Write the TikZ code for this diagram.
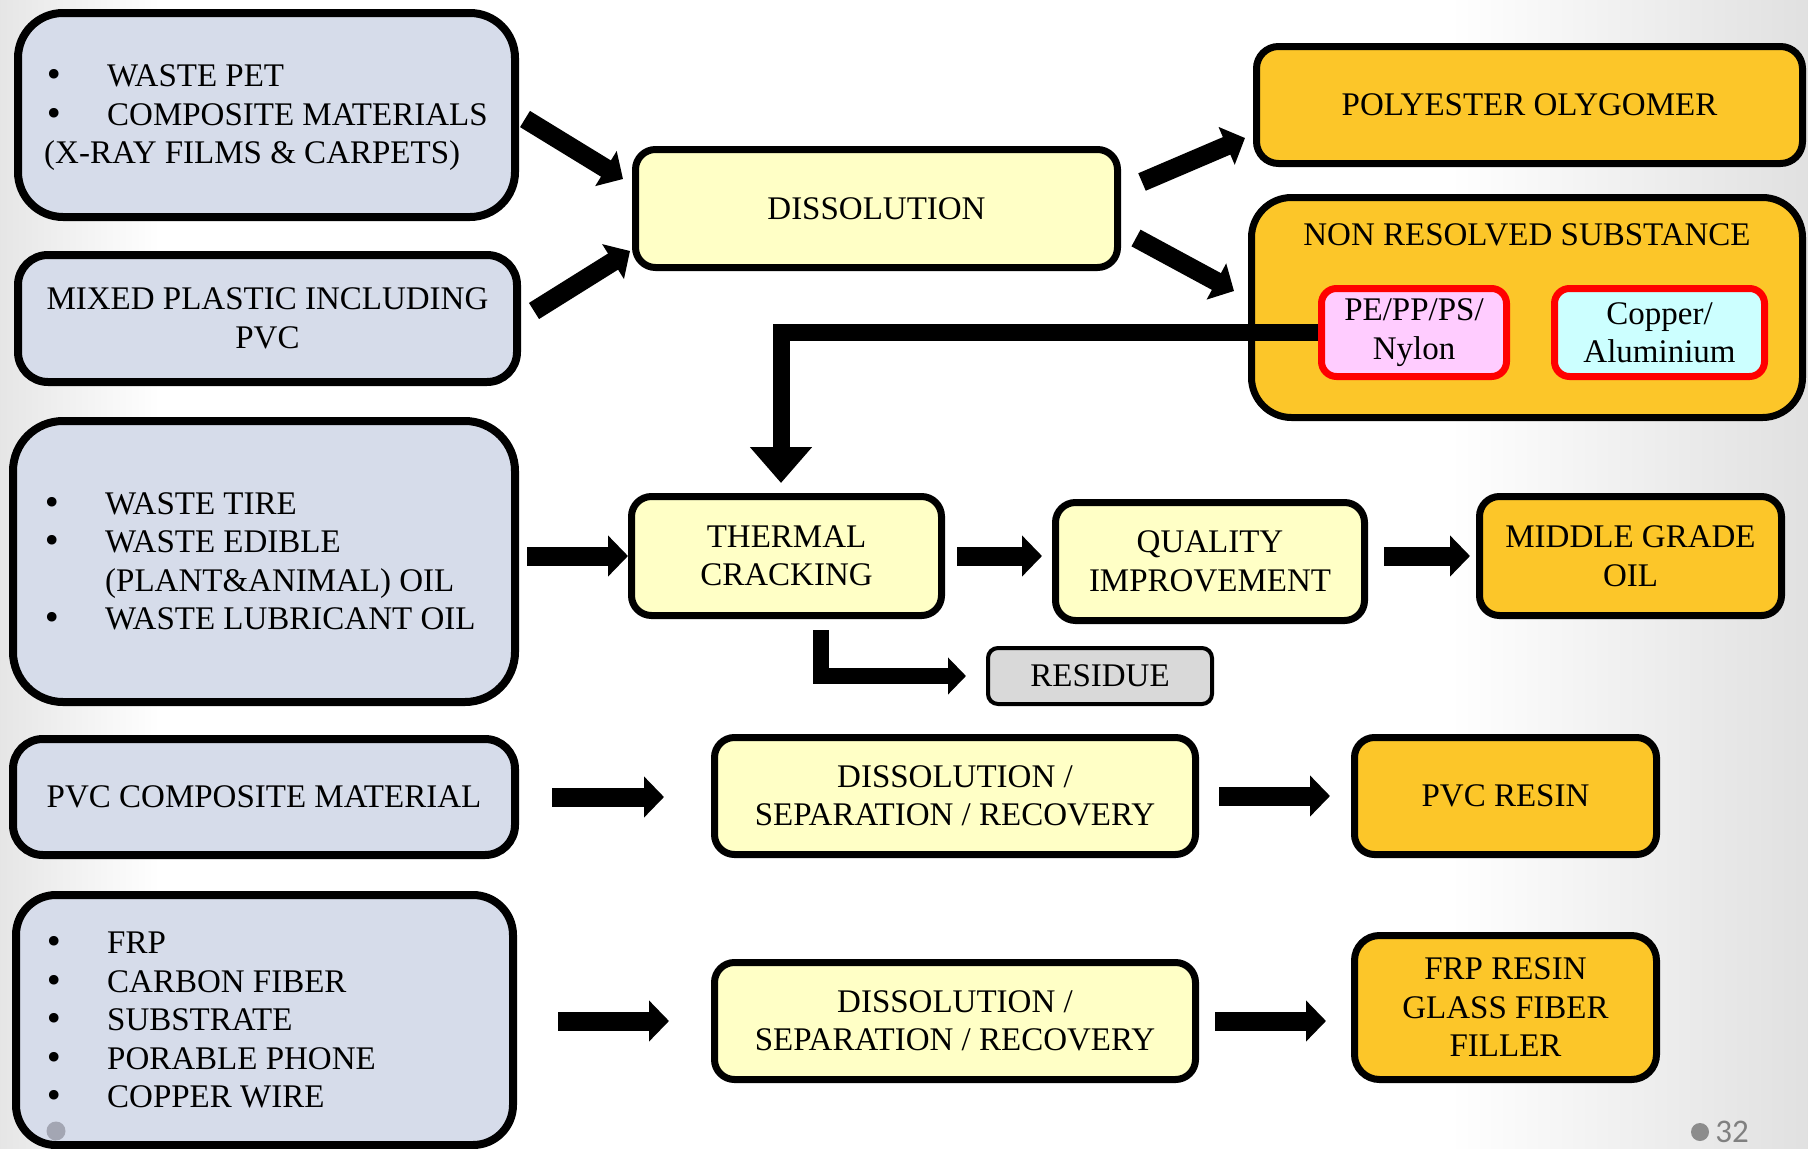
\documentclass[tikz,border=0pt]{standalone}
\usepackage{fontspec}
\setmainfont{Liberation Serif}
\newfontfamily\slidenumfont{Carlito}
\newfontfamily\bulletfont{DejaVu Sans}
\usetikzlibrary{arrows.meta}

\definecolor{srcfill}{RGB}{214,220,234}
\definecolor{procfill}{RGB}{255,255,198}
\definecolor{prodfill}{RGB}{252,198,41}
\definecolor{pinkfill}{RGB}{255,204,255}
\definecolor{cyanfill}{RGB}{204,255,255}
\definecolor{resfill}{RGB}{217,217,217}
\definecolor{dotgray}{RGB}{163,166,179}

\newcommand{\bulitem}{\makebox[63pt][l]{{\bulletfont\textbullet}}}

\begin{document}
\begin{tikzpicture}[x=1pt, y=-1pt,
  every node/.style={font=\fontsize{33}{38.5}\selectfont, inner sep=0pt},
  srcbox/.style={draw, line width=8pt, fill=srcfill, rounded corners=#1},
  procbox/.style={draw, line width=7pt, fill=procfill, rounded corners=20pt, align=center},
  prodbox/.style={draw, line width=7pt, fill=prodfill, rounded corners=#1, align=center},
  subbox/.style={draw=red, line width=7pt, rounded corners=15pt, align=center,
    minimum height=88pt},
  flowarrow/.style={line width=19pt, -{Triangle[length=20pt,width=40pt]}},
  bigarrow/.style={line width=17pt, -{Triangle[length=36pt,width=60pt]}},
  residuearrow/.style={line width=16pt, -{Triangle[length=18pt,width=36pt]}}]

  \useasboundingbox (0,0) rectangle (1808,1149);
  \fill[white] (0,0) rectangle (1808,1149);
  \shade[left color=black!10, right color=white] (0,0) rectangle (160,1149);
  \shade[left color=white, right color=black!12] (1450,0) rectangle (1808,1149);

  % sources
  \node[srcbox=45pt, minimum width=497pt, minimum height=204pt] (pet) at (266.5,115) {};
  \node[anchor=west, align=left] (pettext) at ([xshift=30pt,yshift=-3pt]pet.west)
    {\bulitem WASTE PET\\\bulitem COMPOSITE MATERIALS\\(X-RAY FILMS \& CARPETS)};
  \node[srcbox=30pt, minimum width=499pt, minimum height=127pt, align=center] (mixed) at (267.5,318.5)
    {MIXED PLASTIC INCLUDING\\PVC};
  \node[srcbox=50pt, minimum width=502pt, minimum height=281pt] (tire) at (264,561.5) {};
  \node[anchor=west, align=left] (tiretext) at ([xshift=33pt]tire.west)
    {\bulitem WASTE TIRE\\\bulitem WASTE EDIBLE\\\hspace*{63pt}(PLANT\&ANIMAL) OIL\\\bulitem WASTE LUBRICANT OIL};
  \node[srcbox=30pt, minimum width=502pt, minimum height=116pt] (pvc) at (264,797) {PVC COMPOSITE MATERIAL};
  \node[srcbox=40pt, minimum width=497pt, minimum height=250pt] (frp) at (264.5,1020) {};
  \node[anchor=west, align=left] (frptext) at ([xshift=32pt]frp.west)
    {\bulitem FRP\\\bulitem CARBON FIBER\\\bulitem SUBSTRATE\\\bulitem PORABLE PHONE\\\bulitem COPPER WIRE};
  \node[circle, fill=dotgray, minimum size=19pt] (cornerdot) at (56,1131) {};

  % processes
  \node[procbox, minimum width=482pt, minimum height=118pt] (dissol) at (876.5,208.5) {DISSOLUTION};
  \node[procbox, minimum width=310pt, minimum height=119pt] (thermal) at (786.5,556) {THERMAL\\CRACKING};
  \node[procbox, minimum width=309pt, minimum height=118pt] (quality) at (1210,561.5) {QUALITY\\IMPROVEMENT};
  \node[draw, line width=4pt, fill=resfill, rounded corners=10pt, minimum width=224pt, minimum height=56pt] (residue) at (1100,676) {RESIDUE};
  \node[procbox, minimum width=481pt, minimum height=117pt] (dsr1) at (955,796) {DISSOLUTION /\\SEPARATION / RECOVERY};
  \node[procbox, minimum width=481pt, minimum height=117pt] (dsr2) at (955,1021) {DISSOLUTION /\\SEPARATION / RECOVERY};

  % products
  \node[prodbox=22pt, minimum width=546pt, minimum height=117pt] (poly) at (1529.5,105) {POLYESTER OLYGOMER};
  \node[prodbox=40pt, minimum width=551pt, minimum height=220pt] (nrs) at (1527,307.5) {};
  \node (nrstitle) at ([yshift=-41pt]nrs.north) {NON RESOLVED SUBSTANCE};
  \node[subbox, fill=pinkfill, minimum width=185pt] (pepp) at (1414,332.5) {PE/PP/PS/\\Nylon};
  \node[subbox, fill=cyanfill, minimum width=210pt] (cu) at (1659.5,332.5) {Copper/\\Aluminium};
  \node[prodbox=20pt, minimum width=302pt, minimum height=119pt] (mgo) at (1630.5,556) {MIDDLE GRADE\\OIL};
  \node[prodbox=20pt, minimum width=302pt, minimum height=117pt] (pvcr) at (1505.5,796) {PVC RESIN};
  \node[prodbox=25pt, minimum width=302pt, minimum height=144pt] (frpr) at (1505.5,1007.5) {FRP RESIN\\GLASS FIBER\\FILLER};

  % arrows
  \draw[flowarrow] ([xshift=6pt,yshift=-4pt]pet.east) -- ([xshift=-9pt,yshift=29.5pt]dissol.west);
  \draw[flowarrow] ([xshift=13pt,yshift=7.5pt]mixed.east) -- ([xshift=-2pt,yshift=-42.5pt]dissol.west);
  \draw[flowarrow] ([xshift=21pt,yshift=26.5pt]dissol.east) -- ([xshift=-8pt,yshift=-33pt]poly.west);
  \draw[flowarrow] ([xshift=15pt,yshift=-29.5pt]dissol.east) -- ([xshift=-14pt,yshift=16.5pt]nrs.west);
  \draw[bigarrow] (pepp.west) -| ([xshift=-5.5pt,yshift=10pt]thermal.north);
  \draw[flowarrow, shorten <=8pt] (tire.east |- thermal.west) -- (thermal.west);
  \draw[flowarrow, shorten <=12pt, shorten >=10pt] (thermal.east) -- (thermal.east -| quality.west);
  \draw[flowarrow, shorten <=16pt, shorten >=6pt] (quality.east |- mgo.west) -- (mgo.west);
  \draw[residuearrow] ([xshift=34.5pt,yshift=-11pt]thermal.south) |- ([xshift=-20pt]residue.west);
  \draw[flowarrow, shorten <=33pt, shorten >=47pt] (pvc.east) -- (pvc.east -| dsr1.west);
  \draw[flowarrow, shorten <=20pt, shorten >=21pt] (dsr1.east) -- (pvcr.west);
  \draw[flowarrow, shorten <=41pt, shorten >=42pt] (frp.east |- dsr2.west) -- (dsr2.west);
  \draw[flowarrow, shorten <=16pt, shorten >=25pt] (dsr2.east) -- (dsr2.east -| frpr.west);

  \node[circle, fill=black!45, minimum size=18pt] (slidedot) at (1700,1132) {};
  \node[anchor=west, font=\slidenumfont\fontsize{33}{36}\selectfont, text=black!50] (slidenum) at ([xshift=6pt]slidedot.east) {32};
\end{tikzpicture}
\end{document}
